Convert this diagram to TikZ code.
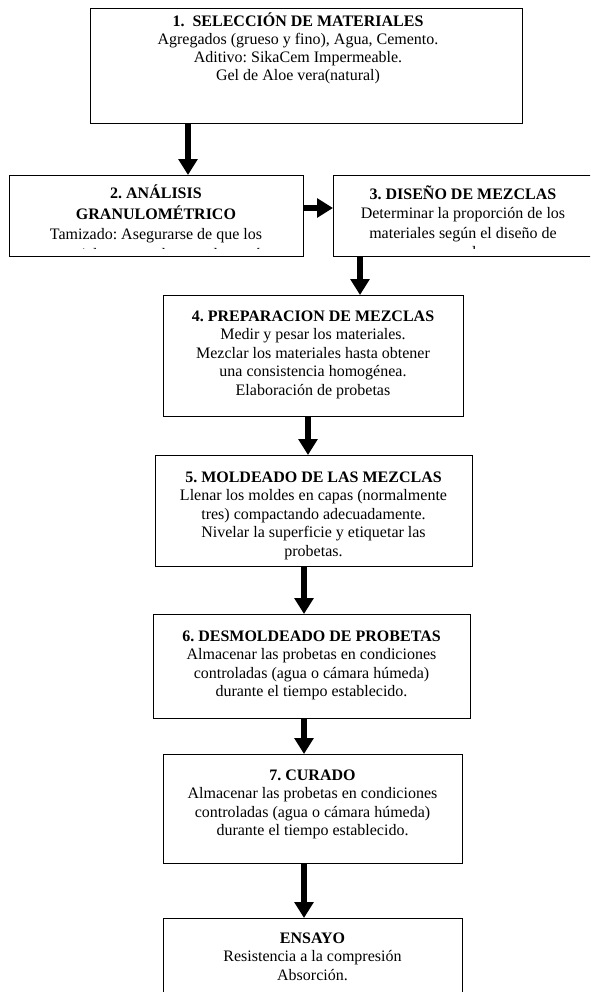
\documentclass[tikz,border=0pt]{standalone}
\usepackage{fontspec}
\setmainfont{Liberation Serif}
\usetikzlibrary{arrows.meta}
\tikzset{
  box/.style={draw, line width=0.75pt, inner sep=0pt, anchor=north west, fill=none},
  txt/.style={anchor=north, inner sep=0pt, align=center, font=\fontsize{12pt}{13.9pt}\selectfont\frenchspacing},
  txta/.style={txt, font=\fontsize{12pt}{13.4pt}\selectfont\frenchspacing},
  txtb/.style={txt, font=\fontsize{12pt}{14.7pt}\selectfont\frenchspacing},
  arr/.style={line width=4.5pt, -{Triangle[width=14pt,length=12pt]}}
}
\begin{document}
\begin{tikzpicture}[x=0.75pt,y=-0.75pt]
\clip (0,0) rectangle (590,992);
\fill[white] (0,0) rectangle (590,992);
% boxes
\node[box, minimum width=432*0.75pt, minimum height=115*0.75pt] (b1) at (90,8) {};
\node[box, minimum width=294*0.75pt, minimum height=81*0.75pt] (b2) at (9,175) {};
\node[box, minimum width=267*0.75pt, minimum height=81*0.75pt] (b3) at (333,175) {};
\node[box, minimum width=300*0.75pt, minimum height=121*0.75pt] (b4) at (163,295) {};
\node[box, minimum width=317*0.75pt, minimum height=111*0.75pt] (b5) at (155,455) {};
\node[box, minimum width=317*0.75pt, minimum height=104*0.75pt] (b6) at (153,614) {};
\node[box, minimum width=299*0.75pt, minimum height=109*0.75pt] (b7) at (163,754) {};
\node[box, minimum width=299*0.75pt, minimum height=100*0.75pt] (b8) at (163,918) {};
% texts
\node[txta] (t1) at (298,13) {\strut\textbf{1.\ \ SELECCIÓN DE MATERIALES}\\Agregados (grueso y fino), Agua, Cemento.\\Aditivo: SikaCem Impermeable.\\Gel de Aloe vera(natural)};
\begin{scope}
\clip (9,175) rectangle (303,248.5);
\node[txtb] (t2) at (156,185) {\strut\textbf{2. ANÁLISIS}\\\textbf{GRANULOMÉTRICO}\\Tamizado: Asegurarse de que los\\materiales tengan la granulometría};
\end{scope}
\begin{scope}
\clip (333,175) rectangle (600,248.5);
\node[txtb] (t3) at (463,185) {\strut\textbf{3. DISEÑO DE MEZCLAS}\\Determinar la proporción de los\\materiales según el diseño de\\mezcla.};
\end{scope}
\node[txt] (t4) at (313,308) {\strut\textbf{4. PREPARACION DE MEZCLAS}\\Medir y pesar los materiales.\\Mezclar los materiales hasta obtener\\una consistencia homogénea.\\Elaboración de probetas};
\node[txt] (t5) at (313.5,469) {\strut\textbf{5. MOLDEADO DE LAS MEZCLAS}\\Llenar los moldes en capas (normalmente\\tres) compactando adecuadamente.\\Nivelar la superficie y etiquetar las\\probetas.};
\node[txt] (t6) at (311.5,628) {\strut\textbf{6. DESMOLDEADO DE PROBETAS}\\Almacenar las probetas en condiciones\\controladas (agua o cámara húmeda)\\durante el tiempo establecido.};
\node[txt] (t7) at (312.5,767) {\strut\textbf{7. CURADO}\\Almacenar las probetas en condiciones\\controladas (agua o cámara húmeda)\\durante el tiempo establecido.};
\node[txt] (t8) at (312.5,930) {\strut\textbf{ENSAYO}\\Resistencia a la compresión\\Absorción.};
% arrow positions
\coordinate (x1) at (188,0);
\coordinate (y2) at (0,208);
\coordinate (x3) at (360,0);
\coordinate (x4) at (308,0);
\coordinate (x5) at (304,0);
% arrows
\draw[arr] (b1.south -| x1) -- (b2.north -| x1);
\draw[arr] (b2.east |- y2) -- (b3.west |- y2);
\draw[arr] (b3.south -| x3) -- (b4.north -| x3);
\draw[arr] (b4.south -| x4) -- (b5.north -| x4);
\draw[arr] (b5.south -| x5) -- (b6.north -| x5);
\draw[arr] (b6.south -| x5) -- (b7.north -| x5);
\draw[arr] (b7.south -| x5) -- (b8.north -| x5);
\end{tikzpicture}
\end{document}
